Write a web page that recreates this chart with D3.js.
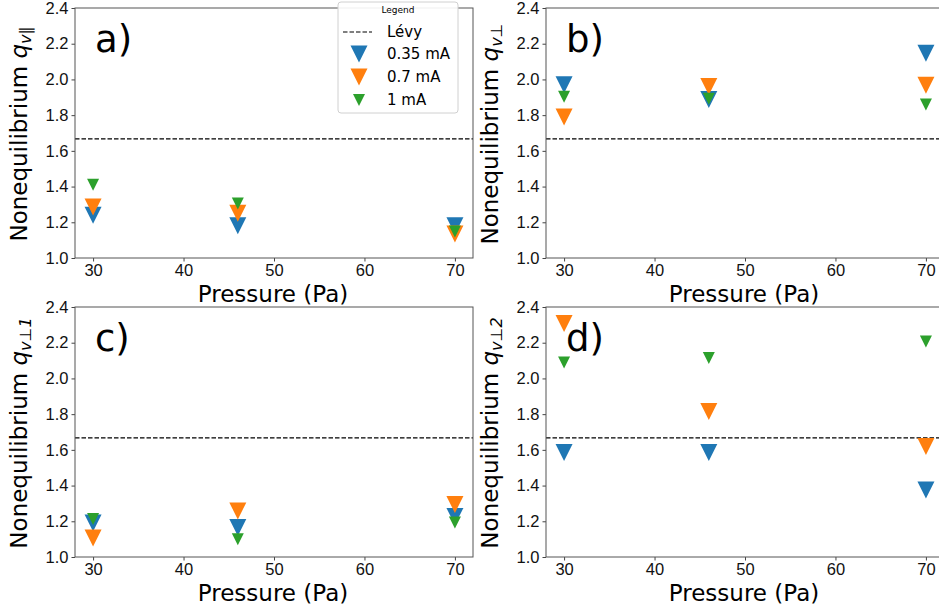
<!DOCTYPE html>
<html>
<head>
<meta charset="utf-8">
<script src="https://cdn.jsdelivr.net/npm/d3@7"></script>
<style>
  body { margin: 0; background: #fff; }
  svg { font-family: "DejaVu Sans", sans-serif; }
</style>
</head>
<body>
<div id="chart"></div>
<script>
// data
const pressure = [30, 46, 70];
const seriesNames = ["0.35 mA", "0.7 mA", "1 mA"];
const seriesColors = ["#1f77b4", "#ff7f0e", "#2ca02c"];
const markerSize = [17, 17, 12];
const levy = 5 / 3;

const qPar = [[1.24, 1.18, 1.18], [1.285, 1.25, 1.135], [1.41, 1.305, 1.148]];
const qPerp = [[1.97, 1.887, 2.147], [1.79, 1.96, 1.968], [1.903, 1.892, 1.859]];
const qPerp1 = [[1.19, 1.165, 1.227], [1.106, 1.258, 1.294], [1.213, 1.10, 1.193]];
const qPerp2 = [[1.585, 1.585, 1.375], [2.307, 1.815, 1.619], [2.089, 2.114, 2.207]];

const xTicks = [30, 40, 50, 60, 70];
const yTicks = [1.0, 1.2, 1.4, 1.6, 1.8, 2.0, 2.2, 2.4];

// canvas
const width = 939, height = 613;
const panels = [
  {letter: "a)", sub: "v\u2225", data: qPar, left: 75, top: 8},
  {letter: "b)", sub: "v\u22a5", data: qPerp, left: 546, top: 8},
  {letter: "c)", sub: "v\u22a51", data: qPerp1, left: 75, top: 307},
  {letter: "d)", sub: "v\u22a52", data: qPerp2, left: 546, top: 307}
];
const pw = 398, ph = 250;

const svg = d3.select("#chart").append("svg")
  .attr("width", width).attr("height", height);

const tri = s => `M${-s/2},${-s/2}L${s/2},${-s/2}L0,${s/2}Z`;

panels.forEach(p => {
  const x = d3.scaleLinear().domain([28, 72]).range([0, pw]);
  const y = d3.scaleLinear().domain([1.0, 2.4]).range([ph, 0]);
  const g = svg.append("g").attr("transform", `translate(${p.left},${p.top})`);

  // levy line
  g.append("line")
    .attr("x1", 0).attr("x2", pw)
    .attr("y1", y(levy)).attr("y2", y(levy))
    .attr("stroke", "#000").attr("stroke-width", 1.2)
    .attr("stroke-dasharray", "4.5,2");

  // markers
  p.data.forEach((vals, si) => {
    g.append("g").selectAll("path")
      .data(vals)
      .enter().append("path")
      .attr("d", tri(markerSize[si]))
      .attr("transform", (d, i) => `translate(${x(pressure[i])},${y(d)})`)
      .attr("fill", seriesColors[si]);
  });

  // axes
  const xAxis = d3.axisBottom(x).tickValues(xTicks).tickSize(3.5).tickPadding(3).tickFormat(d3.format("d"));
  const yAxis = d3.axisLeft(y).tickValues(yTicks).tickSize(3.5).tickPadding(3).tickFormat(d3.format(".1f"));
  const gx = g.append("g").attr("transform", `translate(0,${ph})`).call(xAxis);
  const gy = g.append("g").call(yAxis);
  [gx, gy].forEach(a => {
    a.selectAll("text").style("font-size", "16.5px").attr("fill", "#111");
    a.selectAll("line").attr("stroke", "#444");
    a.select(".domain").remove();
  });

  // frame
  g.append("rect")
    .attr("width", pw).attr("height", ph)
    .attr("fill", "none").attr("stroke", "#555").attr("stroke-width", 1);

  // labels
  g.append("text")
    .attr("x", pw / 2 - 1).attr("y", ph + 44)
    .attr("text-anchor", "middle")
    .style("font-size", "23px")
    .text("Pressure (Pa)");

  const yl = g.append("text")
    .attr("transform", `translate(-48,${ph / 2 + 1}) rotate(-90)`)
    .attr("text-anchor", "middle")
    .style("font-size", "23px");
  yl.append("tspan").text("Nonequilibrium ");
  yl.append("tspan").style("font-style", "italic").text("q");
  yl.append("tspan").attr("dy", 4).style("font-size", "16px").style("font-style", "italic").text(p.sub);

  g.append("text")
    .attr("x", 20).attr("y", 44)
    .style("font-size", "37px")
    .text(p.letter);
});

// legend
const legend = svg.append("g").attr("transform", "translate(338,2)");
legend.append("rect")
  .attr("width", 120).attr("height", 111).attr("rx", 3)
  .attr("fill", "#fff").attr("fill-opacity", 0.9)
  .attr("stroke", "#d0d0d0");
legend.append("text")
  .attr("x", 60).attr("y", 11)
  .attr("text-anchor", "middle")
  .style("font-size", "9px")
  .text("Legend");
legend.append("line")
  .attr("x1", 5).attr("x2", 34).attr("y1", 30).attr("y2", 30)
  .attr("stroke", "#000").attr("stroke-width", 1.2)
  .attr("stroke-dasharray", "4.5,2");
legend.append("text")
  .attr("x", 49).attr("y", 35)
  .style("font-size", "15px")
  .text("L\u00e9vy");
seriesNames.forEach((name, i) => {
  const ly = 52 + i * 23;
  legend.append("path")
    .attr("d", tri(markerSize[i]))
    .attr("transform", `translate(21,${ly})`)
    .attr("fill", seriesColors[i]);
  legend.append("text")
    .attr("x", 49).attr("y", ly + 5)
    .style("font-size", "15px")
    .text(name);
});
</script>
</body>
</html>
